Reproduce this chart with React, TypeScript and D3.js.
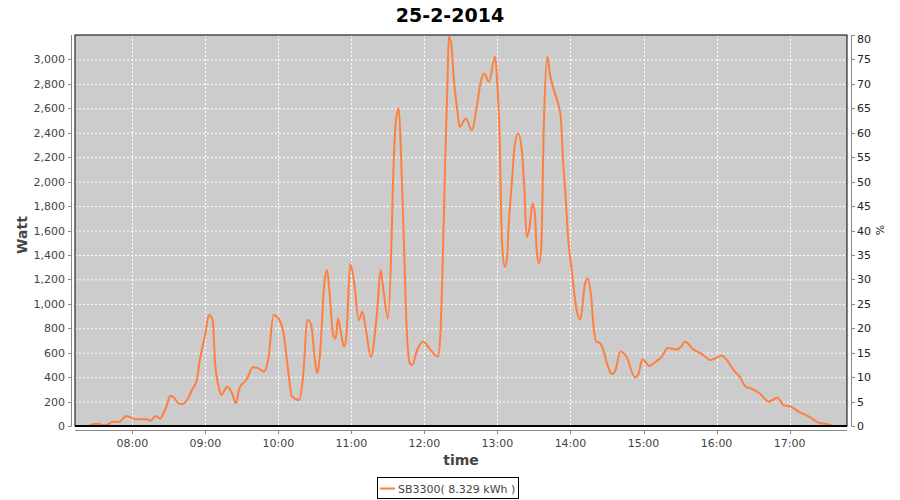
import React from "react";
import * as d3 from "d3";

const chartTitle = "25-2-2014";
const seriesName = "SB3300( 8.329 kWh )";

const times = ["07:24","07:29","07:33","07:36","07:39","07:44","07:49","07:55","07:58","08:02","08:12","08:15","08:19","08:23","08:25","08:28","08:31","08:34","08:38","08:41","08:45","08:49","08:53","08:55","09:00","09:03","09:06","09:08","09:11","09:13","09:18","09:22","09:25","09:28","09:34","09:39","09:44","09:48","09:52","09:56","10:00","10:04","10:08","10:11","10:17","10:20","10:24","10:27","10:30","10:32","10:34","10:38","10:40","10:42","10:45","10:47","10:49","10:51","10:54","10:56","10:59","11:02","11:06","11:09","11:12","11:16","11:21","11:24","11:26","11:30","11:33","11:34","11:37","11:39","11:41","11:43","11:45","11:48","11:50","11:54","11:59","12:05","12:11","12:13","12:15","12:17","12:19","12:20","12:22","12:24","12:27","12:29","12:34","12:39","12:43","12:46","12:49","12:53","12:58","13:00","13:02","13:03","13:04","13:06","13:08","13:09","13:12","13:14","13:17","13:20","13:22","13:24","13:26","13:29","13:31","13:32","13:34","13:36","13:38","13:41","13:43","13:46","13:49","13:52","13:54","13:56","13:58","14:01","14:05","14:08","14:12","14:14","14:17","14:19","14:21","14:24","14:27","14:30","14:34","14:37","14:41","14:46","14:53","14:56","14:59","15:05","15:10","15:15","15:20","15:27","15:31","15:34","15:41","15:48","15:55","15:59","16:04","16:09","16:14","16:19","16:24","16:29","16:36","16:43","16:50","16:55","17:01","17:09","17:16","17:24","17:31","17:35"];

const watts = [0,16,16,5,8,35,33,82,74,55,55,43,82,60,90,158,245,235,185,180,213,295,376,513,758,908,867,513,322,254,322,267,186,308,382,480,472,444,567,908,881,771,458,245,213,376,867,826,540,431,567,1195,1276,1099,744,717,881,785,649,758,1325,1195,867,935,785,567,922,1276,1140,881,1521,1931,2530,2599,2149,1549,894,513,499,622,690,622,567,731,1331,2149,2830,3185,3130,2857,2585,2448,2517,2421,2612,2803,2885,2816,3021,2775,2285,1740,1467,1303,1385,1603,2012,2285,2394,2258,1958,1549,1603,1822,1712,1467,1331,1467,2421,3021,2885,2762,2667,2530,2149,1876,1549,1276,949,870,1167,1208,1058,812,690,681,622,513,425,458,610,567,398,431,546,491,526,567,638,627,649,690,627,589,540,554,578,534,458,403,322,305,262,199,232,172,158,109,76,27,16,2];

const xTickLabels = ["08:00","09:00","10:00","11:00","12:00","13:00","14:00","15:00","16:00","17:00"];
const wattTicks = [0,200,400,600,800,1000,1200,1400,1600,1800,2000,2200,2400,2600,2800,3000];
const pctTicks = [0,5,10,15,20,25,30,35,40,45,50,55,60,65,70,75,80];

const toMin = (s: string) => {
  const [h, m] = s.split(":").map(Number);
  return h * 60 + m;
};

export default function App() {
  const W = 900, H = 500;
  const left = 75, right = 847, top = 35, bottom = 426;

  const x = d3.scaleLinear().domain([432.9, 1067.2]).range([left, right]);
  const y = d3.scaleLinear().domain([0, 3200]).range([bottom, top]);
  const yP = d3.scaleLinear().domain([0, 80]).range([bottom, top]);

  const data = times.map((t, i) => ({ t: toMin(t), v: watts[i] }));
  const line = d3.line<{ t: number; v: number }>()
    .x(d => x(d.t))
    .y(d => y(d.v))
    .curve(d3.curveMonotoneX);

  const fmt = d3.format(",");
  const font = "'DejaVu Sans', Tahoma, sans-serif";

  return (
    <svg width={W} height={H} style={{ position: "absolute", left: 0, top: 0, display: "block" }} fontFamily={font}>
      <rect x={0} y={0} width={W} height={H} fill="#fff" />
      <text x={450} y={22} textAnchor="middle" fontSize={19} fontWeight="bold" fill="#000">{chartTitle}</text>
      <defs>
        <clipPath id="plotclip"><rect x={left} y={top} width={right - left} height={bottom - top} /></clipPath>
      </defs>
      <rect x={left} y={top} width={right - left} height={bottom - top} fill="#cccccc" />
      {wattTicks.map(v => (
        <line key={"gy" + v} x1={left} x2={right} y1={y(v) + 0.5} y2={y(v) + 0.5} stroke="#fff" strokeWidth={1} strokeDasharray="2,2" />
      ))}
      {xTickLabels.map(l => (
        <line key={"gx" + l} x1={Math.round(x(toMin(l))) + 0.5} x2={Math.round(x(toMin(l))) + 0.5} y1={top} y2={bottom} stroke="#fff" strokeWidth={1} strokeDasharray="2,2" />
      ))}
      <path d={line(data) || ""} fill="none" stroke="#ff7f3f" strokeWidth={2} clipPath="url(#plotclip)" />
      <rect x={left} y={top} width={right - left} height={bottom - top} fill="none" stroke="#000" strokeWidth={1} />
      <line x1={left} x2={right} y1={bottom} y2={bottom} stroke="#000" strokeWidth={2} />

      {/* left axis */}
      <line x1={71.5} x2={71.5} y1={top} y2={bottom} stroke="#888" />
      {wattTicks.map(v => (
        <g key={"ly" + v}>
          <line x1={68} x2={71.5} y1={Math.round(y(v)) + 0.5} y2={Math.round(y(v)) + 0.5} stroke="#888" />
          <text x={65} y={y(v) + 4} textAnchor="end" fontSize={11} fill="#444">{fmt(v)}</text>
        </g>
      ))}
      <text transform={`translate(27,235) rotate(-90)`} textAnchor="middle" fontSize={14} fontWeight="bold" fill="#444">Watt</text>

      {/* right axis */}
      <line x1={851.5} x2={851.5} y1={top} y2={bottom} stroke="#888" />
      {pctTicks.map(v => (
        <g key={"ry" + v}>
          <line x1={851.5} x2={855} y1={Math.round(yP(v)) + 0.5} y2={Math.round(yP(v)) + 0.5} stroke="#888" />
          <text x={857} y={Math.max(yP(v) + 4, top + 8)} textAnchor="start" fontSize={11} fill="#222">{v}</text>
        </g>
      ))}
      <text transform={`translate(884,230) rotate(-90)`} textAnchor="middle" fontSize={11} fill="#222">%</text>

      {/* bottom axis */}
      <line x1={left} x2={right} y1={430.5} y2={430.5} stroke="#888" />
      {xTickLabels.map(l => (
        <g key={"bx" + l}>
          <line x1={Math.round(x(toMin(l))) + 0.5} x2={Math.round(x(toMin(l))) + 0.5} y1={430.5} y2={434} stroke="#888" />
          <text x={x(toMin(l))} y={447} textAnchor="middle" fontSize={11} fill="#444">{l}</text>
        </g>
      ))}
      <text x={(left + right) / 2} y={465} textAnchor="middle" fontSize={14} fontWeight="bold" fill="#444">time</text>

      {/* legend */}
      <rect x={377.5} y={477.5} width={141} height={21} fill="#fff" stroke="#000" />
      <line x1={380} x2={395} y1={488.5} y2={488.5} stroke="#ff7f3f" strokeWidth={2} />
      <text x={398} y={492.5} fontSize={11} fill="#444">{seriesName}</text>
    </svg>
  );
}
